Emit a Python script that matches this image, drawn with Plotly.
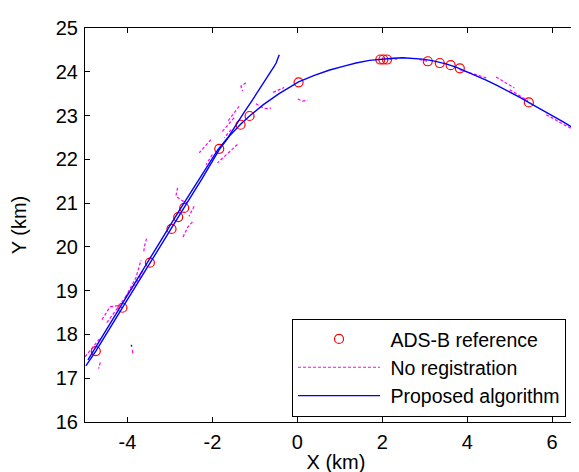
import plotly.graph_objects as go

# ---------------- data (km) ----------------
ads_x = [-4.745, -4.118, -3.472, -2.963, -2.805, -2.664, -1.839, -1.337, -1.125,
         0.029, 1.954, 2.025, 2.111, 3.071, 3.354, 3.61, 3.826, 5.45]
ads_y = [17.62, 18.61, 19.64, 20.41, 20.68, 20.89, 22.24, 22.79, 22.99,
         23.76, 24.28, 24.28, 24.28, 24.24, 24.20, 24.15, 24.08, 23.30]

# Proposed algorithm: curved track
trkB_x = [-4.98, -4.745, -4.118, -3.472, -2.963, -2.664, -2.25, -1.839, -1.6, -1.337,
          -1.125, -0.8, -0.43, 0.029, 0.4, 0.76, 1.1, 1.38, 1.7, 1.97, 2.25, 2.48,
          2.75, 2.95, 3.2, 3.5, 3.75, 3.97, 4.2, 4.445, 4.7, 4.99, 5.25, 5.465,
          5.75, 6.01, 6.25, 6.49, 6.86]
trkB_y = [17.28, 17.62, 18.61, 19.64, 20.43, 20.90, 21.55, 22.22, 22.53, 22.80,
          22.99, 23.25, 23.50, 23.77, 23.92, 24.04, 24.13, 24.20, 24.26, 24.29, 24.31, 24.32,
          24.31, 24.29, 24.25, 24.18, 24.10, 24.01, 23.92, 23.81, 23.69, 23.55, 23.41, 23.29,
          23.14, 23.00, 22.86, 22.72, 22.48]
# Proposed algorithm: straight track
trkA_x = [-4.93, -4.83, -4.21, -3.57, -3.06, -2.76, -2.33, -1.87, -1.62, -1.446,
          -1.25, -1.055, -0.9, -0.739, -0.62, -0.543, -0.5, -0.465, -0.426]
trkA_y = [17.42, 17.58, 18.58, 19.60, 20.39, 20.86, 21.52, 22.22, 22.52, 22.79,
          23.08, 23.36, 23.59, 23.82, 23.99, 24.13, 24.20, 24.28, 24.39]
trkC_x = [-3.91, -3.90]
trkC_y = [17.76, 17.72]

# No registration: fragments
noreg_segments = [
    ([-5.0, -4.82, -4.64], [17.49, 17.70, 17.92]),
    ([-4.64, -4.68], [17.36, 17.22]),
    ([-4.60, -4.41, -4.21, -4.13], [18.34, 18.63, 18.66, 18.61]),
    ([-4.485, -4.13, -3.74, -3.62], [18.27, 18.73, 19.26, 19.49]),
    ([-4.05, -3.80, -3.68], [18.85, 19.30, 19.70]),
    ([-3.55, -3.60, -3.62], [20.19, 20.02, 19.86]),
    ([-3.885, -3.875], [17.64, 17.57]),
    ([-2.43, -2.55], [20.93, 20.70]),
    ([-2.47, -2.58, -2.70], [20.57, 20.45, 20.21]),
    ([-2.82, -2.86, -2.70, -2.59], [21.35, 21.16, 21.05, 21.01]),
    ([-2.035, -2.31], [22.45, 22.15]),
    ([-2.0, -2.15], [22.11, 21.88]),
    ([-1.56, -1.72], [22.68, 22.49]),
    ([-1.41, -1.65, -1.88], [22.34, 22.12, 21.92]),
    ([-1.37, -1.64], [23.21, 22.87]),
    ([-1.49, -1.80], [22.95, 22.60]),
    ([-1.21, -1.33, -1.29], [23.75, 23.67, 23.56]),
    ([-0.57, -0.31], [23.53, 23.64]),
    ([0.01, 0.12, 0.24], [23.38, 23.33, 23.35]),
    ([-0.975, -0.78, -0.62], [23.27, 23.16, 23.17]),
    ([2.17, 2.40], [24.28, 24.30]),
    ([2.87, 3.07], [24.28, 24.24]),
    ([3.82, 4.10, 4.45], [24.05, 23.96, 23.86]),
    ([4.68, 4.90, 5.11], [23.88, 23.76, 23.63]),
    ([5.0, 5.2, 5.43], [23.59, 23.48, 23.34]),
    ([5.86, 6.3, 6.86], [23.02, 22.78, 22.50]),
]

x_ticks = [-4, -2, 0, 2, 4, 6]
x_ticktext = ["-4", "-2", "0", "2", "4", "6"]
y_ticks = [16, 17, 18, 19, 20, 21, 22, 23, 24, 25]
series_names = ["ADS-B reference", "No registration", "Proposed algorithm"]


def join(segs):
    xs, ys = [], []
    for sx, sy in segs:
        xs += list(sx) + [None]
        ys += list(sy) + [None]
    return xs, ys


nx, ny = join(noreg_segments)
px_, py_ = join([(trkA_x, trkA_y), (trkB_x, trkB_y), (trkC_x, trkC_y)])

FONT = "Liberation Sans, Arial, sans-serif"
NB = "\u00a0"

fig = go.Figure()
fig.add_trace(go.Scatter(x=ads_x, y=ads_y, mode="markers", name=NB + series_names[0],
                         marker=dict(symbol="circle-open", size=9, color="#ff0000",
                                     line=dict(width=1.2, color="#ff0000"))))
fig.add_trace(go.Scatter(x=nx, y=ny, mode="lines", name=NB + series_names[1],
                         connectgaps=False,
                         line=dict(color="#ff00ff", width=1.2, dash="3px,2px")))
fig.add_trace(go.Scatter(x=px_, y=py_, mode="lines", name=NB + series_names[2],
                         connectgaps=False,
                         line=dict(color="#0000ff", width=1.4)))

fig.update_layout(
    width=579, height=472,
    margin=dict(l=77, r=0, t=20, b=57.5),
    paper_bgcolor="white", plot_bgcolor="white",
    font=dict(family=FONT, size=20, color="black"),
    showlegend=True,
    legend=dict(x=0.4124, y=0.0134, xanchor="left", yanchor="bottom",
                bgcolor="white", bordercolor="black", borderwidth=1,
                font=dict(family=FONT, size=19.5), itemwidth=82,
                tracegroupgap=0),
    xaxis=dict(range=[-5, 6.82], tickvals=x_ticks, ticktext=x_ticktext,
               ticks="inside", ticklen=5, automargin=False,
               tickcolor="black", showline=True, linecolor="black", linewidth=1,
               mirror="ticks", showgrid=False, zeroline=False,
               ticklabelstandoff=2,
               title=dict(text="X (km)", standoff=2, font=dict(size=20))),
    yaxis=dict(range=[16, 25], tickvals=y_ticks, ticks="inside", ticklen=5,
               tickcolor="black", showline=True, linecolor="black", linewidth=1,
               mirror=False, showgrid=False, zeroline=False, automargin=False,
               ticklabelstandoff=2,
               title=dict(text="Y (km)", standoff=23, font=dict(size=20))),
)

fig.write_html("out.html")
